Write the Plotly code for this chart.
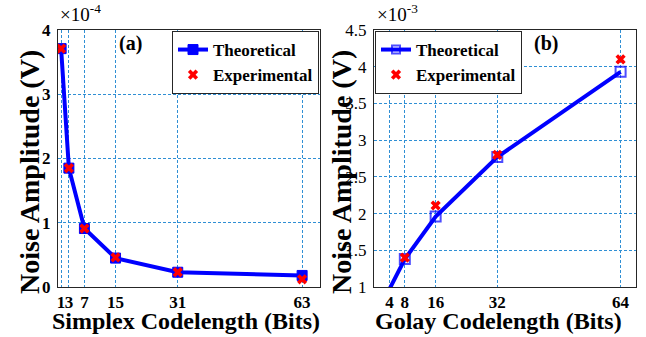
import plotly.graph_objects as go

# ---- data ----
# Panel (a): Simplex codes, noise amplitude in units of 1e-4 V
simplex_len = [1, 3, 7, 15, 31, 63]
simplex_theo = [3.71, 1.85, 0.91, 0.45, 0.23, 0.18]
simplex_exp = [3.71, 1.85, 0.91, 0.46, 0.23, 0.12]
simplex_yticks = [0, 1, 2, 3, 4]

# Panel (b): Golay codes, noise amplitude in units of 1e-3 V
golay_len_theo = [4, 8, 16, 32, 64]
golay_theo = [0.97, 1.38, 1.96, 2.77, 3.93]
golay_len_exp = [8, 16, 32, 64]
golay_exp = [1.40, 2.11, 2.80, 4.10]
golay_xticks = [4, 8, 16, 32, 64]
golay_yticks = [1, 1.5, 2, 2.5, 3, 3.5, 4, 4.5]
golay_yticktext = ["1", "1.5", "2", "2.5", "3", "3.5", "4", "4.5"]

W, H = 646, 337
SERIF = "Liberation Serif, Times New Roman, serif"
BLUE = "#0000ff"
RED = "#ff0000"
GRID = "#2f8fd4"
FRAME = "#262626"

fig = go.Figure()

# Panel (a)
fig.add_trace(go.Scatter(
    x=simplex_len, y=simplex_theo, mode="lines+markers", name="Theoretical",
    line=dict(color=BLUE, width=4),
    marker=dict(symbol="square", size=10, color=BLUE, line=dict(color=BLUE, width=1)),
    xaxis="x", yaxis="y", legend="legend"))
fig.add_trace(go.Scatter(
    x=simplex_len, y=simplex_exp, mode="markers", name="Experimental",
    marker=dict(symbol="x", size=9, color=RED, line=dict(width=0)),
    xaxis="x", yaxis="y", legend="legend"))

# Panel (b)
fig.add_trace(go.Scatter(
    x=golay_len_theo, y=golay_theo, mode="lines+markers", name="Theoretical",
    line=dict(color=BLUE, width=4),
    marker=dict(symbol="square-open", size=[0] + [10] * (len(golay_theo) - 1),
                color=BLUE, line=dict(color=BLUE, width=2)),
    xaxis="x2", yaxis="y2", legend="legend2"))
fig.add_trace(go.Scatter(
    x=golay_len_exp, y=golay_exp, mode="markers", name="Experimental",
    marker=dict(symbol="x", size=9, color=RED, line=dict(width=0)),
    xaxis="x2", yaxis="y2", legend="legend2"))

ya0, ya1 = (H - 287) / H, (H - 30) / H

axis_common = dict(
    showline=True, linecolor=FRAME, linewidth=1, mirror=True,
    showgrid=True, gridcolor=GRID, gridwidth=1, griddash="3px,2px",
    zeroline=False, ticks="", ticklen=0, automargin=False, tickangle=0,
)

fig.update_layout(
    width=W, height=H,
    margin=dict(l=0, r=0, t=0, b=0, autoexpand=False),
    paper_bgcolor="white", plot_bgcolor="white",
    font=dict(family=SERIF, color="black"),
    xaxis=dict(domain=[58 / W, 320 / W], range=[0.2, 67.6],
               tickmode="array", tickvals=simplex_len,
               tickfont=dict(family=SERIF, size=17, weight="bold"),
               ticklabelstandoff=0,
               anchor="y", **axis_common),
    yaxis=dict(domain=[ya0, ya1], range=[0, 4],
               tickmode="array", tickvals=simplex_yticks,
               tickfont=dict(family=SERIF, size=17, weight="bold"),
               ticklabelstandoff=3,
               anchor="x", **axis_common),
    xaxis2=dict(domain=[374 / W, 636 / W], range=[0, 68],
                tickmode="array", tickvals=golay_xticks,
                tickfont=dict(family=SERIF, size=17, weight="bold"),
                ticklabelstandoff=0,
                anchor="y2", **axis_common),
    yaxis2=dict(domain=[ya0, ya1], range=[1, 4.5],
                tickmode="array", tickvals=golay_yticks, ticktext=golay_yticktext,
                tickfont=dict(family=SERIF, size=17),
                ticklabelstandoff=3,
                anchor="x2", **axis_common),
    legend=dict(x=319 / W, xanchor="right", y=(H - 31) / H, yanchor="top",
                bgcolor="white", bordercolor=FRAME, borderwidth=1,
                font=dict(family=SERIF, size=17, weight="bold", color="black"),
                itemwidth=30, tracegroupgap=0),
    legend2=dict(x=375 / W, xanchor="left", y=(H - 31) / H, yanchor="top",
                 bgcolor="white", bordercolor=FRAME, borderwidth=1,
                 font=dict(family=SERIF, size=17, weight="bold", color="black"),
                 itemwidth=30, tracegroupgap=0),
    showlegend=True,
)

ann = [
    dict(text="Noise Amplitude (V)", x=29 / W, y=(H - 172) / H, textangle=-90,
         font=dict(size=28, weight="bold")),
    dict(text="Noise Amplitude (V)", x=341 / W, y=(H - 172) / H, textangle=-90,
         font=dict(size=28, weight="bold")),
    dict(text="Simplex Codelength (Bits)", x=186 / W, y=(H - 321) / H,
         font=dict(size=24, weight="bold")),
    dict(text="Golay Codelength (Bits)", x=498 / W, y=(H - 321) / H,
         font=dict(size=24, weight="bold")),
    dict(text="×10<sup>-4</sup>", x=58 / W, y=(H - 27) / H, xanchor="left",
         yanchor="bottom", font=dict(size=19)),
    dict(text="×10<sup>-3</sup>", x=375 / W, y=(H - 27) / H, xanchor="left",
         yanchor="bottom", font=dict(size=19)),
    dict(text="(a)", x=130 / W, y=(H - 44) / H, font=dict(size=20, weight="bold")),
    dict(text="(b)", x=546 / W, y=(H - 44) / H, font=dict(size=20, weight="bold")),
]
for a in ann:
    a.update(xref="paper", yref="paper", showarrow=False)
    a.setdefault("xanchor", "center")
    a.setdefault("yanchor", "middle")
    a["font"].setdefault("family", SERIF)
    a["font"].setdefault("color", "black")
fig.update_layout(annotations=ann)

fig.write_html("out.html")
